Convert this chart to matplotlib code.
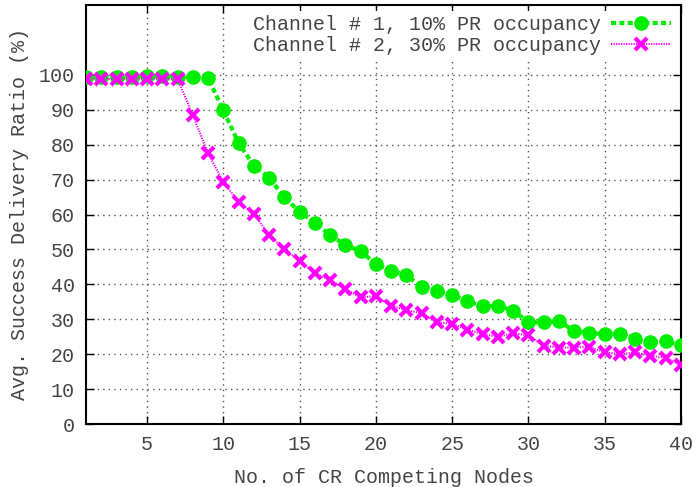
import matplotlib
matplotlib.use('Agg')
import matplotlib.pyplot as plt

# Data
nodes = list(range(1, 41))
ch1 = [99.5, 99.5, 99.5, 99.5, 99.6, 99.8, 99.5, 99.3, 99.1, 89.8,
       80.5, 74.0, 70.5, 65.0, 60.7, 57.7, 54.1, 51.3, 49.5, 45.8,
       43.9, 42.6, 39.3, 38.0, 37.0, 35.1, 33.8, 33.8, 32.5, 29.1,
       29.1, 29.5, 26.6, 26.1, 25.7, 25.9, 24.4, 23.4, 23.8, 22.5]
ch2 = [98.9, 98.9, 98.8, 98.9, 98.9, 98.9, 98.8, 88.5, 77.5, 69.3,
       63.7, 60.1, 54.2, 50.0, 46.7, 43.2, 41.2, 38.6, 36.3, 36.6,
       33.9, 32.6, 31.7, 29.1, 28.7, 27.0, 25.8, 25.0, 26.0, 25.4,
       22.4, 21.9, 21.9, 22.1, 20.5, 20.0, 20.5, 19.5, 19.0, 16.8]
labels = ['Channel # 1, 10% PR occupancy', 'Channel # 2, 30% PR occupancy']
xticks = [5, 10, 15, 20, 25, 30, 35, 40]
yticks = list(range(0, 101, 10))

plt.rcParams['font.family'] = ['Liberation Mono', 'DejaVu Sans Mono']
plt.rcParams['font.size'] = 14.4
txt = '#444444'

fig = plt.figure(figsize=(6.96, 4.87), dpi=100)
ax = fig.add_axes([86/696, 63/487, 595/696, 419/487])

ax.plot(nodes, ch1, color='#00ee00', linestyle=(0, (1.2, 0.8)), lw=3,
        marker='o', markersize=9.5, label=labels[0], zorder=3)
ax.plot(nodes, ch2, color='#ff00ff', linestyle=(0, (0.6, 0.6)), lw=1.5,
        marker='x', markersize=8.5, markeredgewidth=3, label=labels[1], zorder=4)

ax.set_xlim(1, 40)
ax.set_ylim(0, 120)
ax.set_xticks(xticks)
ax.set_yticks(yticks)
ax.tick_params(direction='in', length=6, width=1, top=True, right=True,
               labelsize=14.4, colors=txt, pad=8)
ax.tick_params(color='black')
for s in ax.spines.values():
    s.set_linewidth(1.5)
ax.grid(True, linestyle=(0, (1, 3)), color='#555555', lw=1)
ax.set_axisbelow(True)

ax.set_xlabel('No. of CR Competing Nodes', color=txt, labelpad=10)
ax.set_ylabel('Avg. Success Delivery Ratio (%)', color=txt, labelpad=7)

leg = ax.legend(loc='upper right', markerfirst=False, frameon=True,
                fancybox=False, framealpha=1, edgecolor='none',
                handlelength=3.0, handletextpad=0.5, labelspacing=0.1,
                borderpad=0.2, borderaxespad=0.3, fontsize=14.4,
                labelcolor=txt)
leg.set_zorder(5)

fig.savefig('out.png', dpi=100)
